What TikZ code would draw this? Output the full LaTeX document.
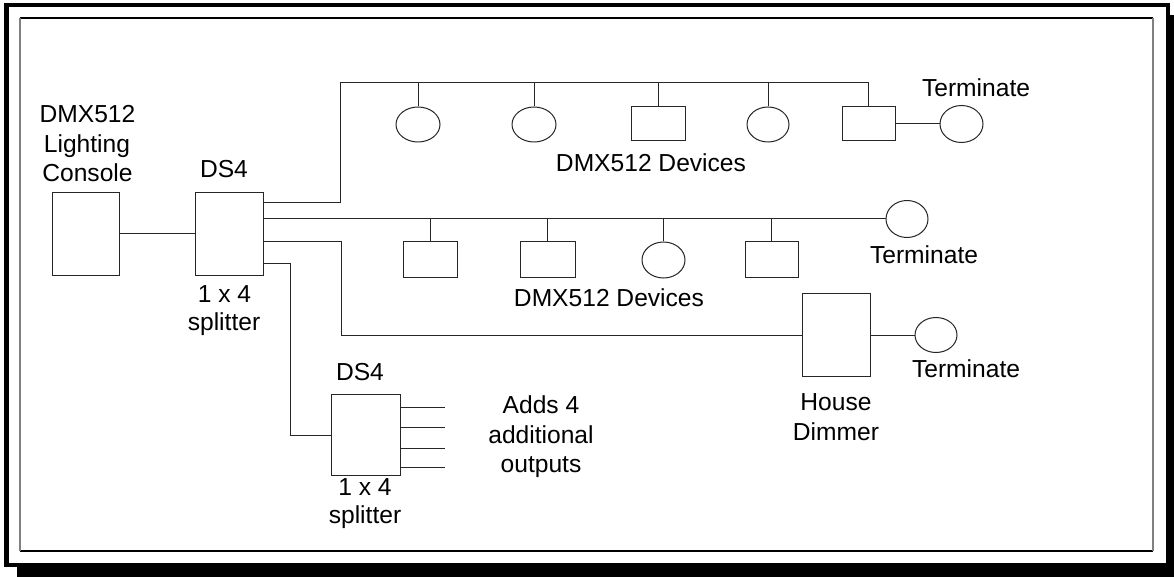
\documentclass[tikz,border=0pt]{standalone}
\usepackage{fontspec}
\setmainfont{Liberation Sans}
\usetikzlibrary{shapes.geometric}
\begin{document}
\begin{tikzpicture}[x=1pt,y=-1pt,
  wire/.style={line width=1pt,black!85},
  boxdev/.style={draw=black!85,line width=1pt,rectangle,inner sep=0pt,minimum width=#1},
  boxdev/.default=54pt,
  elldev/.style={draw=black!85,line width=1pt,ellipse,inner sep=0pt,minimum width=43pt,minimum height=35pt},
  lbl/.style={font=\fontsize{24.6}{29}\selectfont,anchor=base,inner sep=0pt}]
\useasboundingbox (0,0) rectangle (1174,577);
% frame with shadow
\fill[black] (17,15) rectangle (1180,583);
\draw[line width=4.5pt,fill=white] (6.5,5) rectangle (1168,565);
\draw[line width=1.2pt,black] (20,18) -- (1153,18);
\draw[line width=1.2pt,black] (20,551) -- (1153,551);
\draw[line width=1.6pt,black!50] (20,18) -- (20,551);
\draw[line width=1.6pt,black!50] (1153,18) -- (1153,551);
% main units
\node[boxdev=67pt,minimum height=82pt] (console) at (85.5,234) {};
\node[boxdev=68pt,minimum height=82pt] (ds4a) at (229,234) {};
\node[boxdev=69pt,minimum height=81pt] (ds4b) at (365.5,435) {};
\node[boxdev=68pt,minimum height=83pt] (dimmer) at (836,335) {};
% top line devices
\node[elldev,minimum width=44pt] (t1) at (418,124.5) {};
\node[elldev,minimum width=44pt] (t2) at (534,124.5) {};
\node[boxdev=54pt,minimum height=34pt] (t3) at (658,124) {};
\node[elldev,minimum width=42pt] (t4) at (768,124.5) {};
\node[boxdev=53pt,minimum height=34pt] (t5) at (868.5,124) {};
\node[elldev,minimum height=37pt] (tterm) at (961.5,124) {};
% middle line devices
\node[boxdev=54pt,minimum height=35pt] (m1) at (430,259.5) {};
\node[boxdev=55pt,minimum height=35pt] (m2) at (547.5,259.5) {};
\node[elldev,minimum height=36pt] (m3) at (663.5,260) {};
\node[boxdev=53pt,minimum height=35pt] (m4) at (771.5,259.5) {};
\node[elldev,minimum width=42pt,minimum height=37pt] (mterm) at (907,219) {};
% house terminate
\node[elldev,minimum width=42pt] (hterm) at (936,335) {};
% coordinates for bends
\coordinate (tb) at (340,83);
\coordinate (b3) at (341,335);
\coordinate (b4) at (290,435);
% connectors
\draw[wire] (console) -- (ds4a);
\draw[wire] ([yshift=31pt]ds4a.east) -| (tb) -| (t5.north);
\foreach \d in {t1,t2,t3,t4} \draw[wire] (\d.north) -- (\d.north |- tb);
\draw[wire] (t5) -- (tterm);
\draw[wire] ([yshift=15pt]ds4a.east) -- (mterm.west);
\foreach \d in {m1,m2,m3,m4} \draw[wire] (\d.north) -- (\d.north |- mterm.west);
\draw[wire] ([yshift=-8pt]ds4a.east) -| (b3) -- (dimmer.west);
\draw[wire] (dimmer) -- (hterm);
\draw[wire] ([yshift=-29pt]ds4a.east) -| (b4) -- (ds4b.west);
\foreach \o [count=\i] in {28,8,-13,-32} {
  \coordinate (s\i) at ([yshift=\o pt,xshift=44pt]ds4b.east);
  \draw[wire] ([yshift=\o pt]ds4b.east) -- (s\i);
}
% labels
\node[lbl] (lc1) at (87.5,123) {DMX512};
\node[lbl] (lc2) at (87,153) {Lighting};
\node[lbl] (lc3) at (87.5,182) {Console};
\node[lbl] (la1) at (224,178) {DS4};
\node[lbl] (la2) at (224.5,302) {1 x 4};
\node[lbl] (la3) at (224,330) {splitter};
\node[lbl] (lb1) at (360,380) {DS4};
\node[lbl] (lb2) at (365,495) {1 x 4};
\node[lbl] (lb3) at (365,523) {splitter};
\node[lbl] (ad1) at (541,413) {Adds 4};
\node[lbl] (ad2) at (541,443) {additional};
\node[lbl] (ad3) at (541,472) {outputs};
\node[lbl] (dev1) at (651,172) {DMX512 Devices};
\node[lbl] (dev2) at (609,306) {DMX512 Devices};
\node[lbl] (term1) at (976,97) {Terminate};
\node[lbl] (term2) at (924,263) {Terminate};
\node[lbl] (term3) at (966,377) {Terminate};
\node[lbl] (hd1) at (836,410) {House};
\node[lbl] (hd2) at (836,440) {Dimmer};
\end{tikzpicture}
\end{document}
